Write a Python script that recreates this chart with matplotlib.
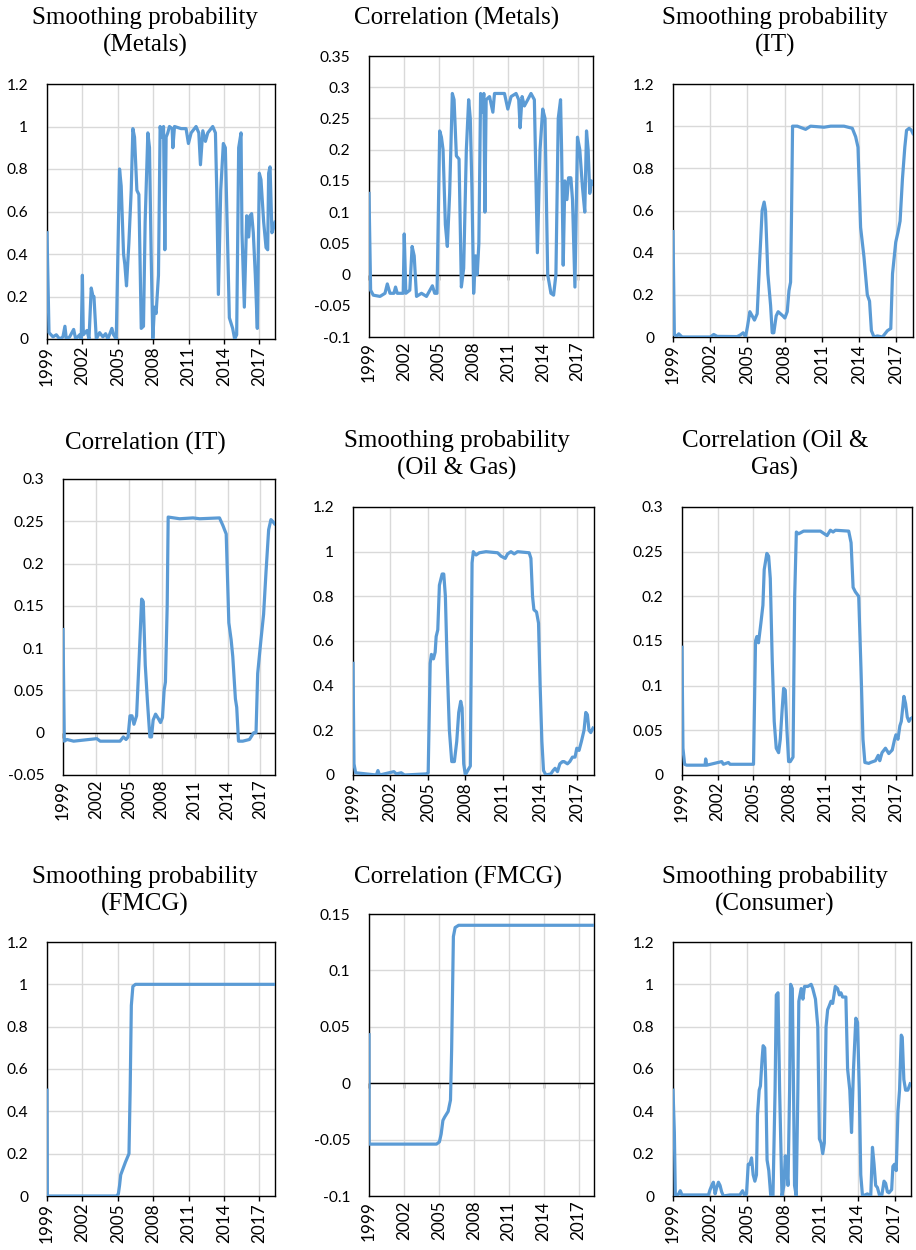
import matplotlib
matplotlib.use("Agg")
import matplotlib.pyplot as plt

W, H = 916, 1250
LINE = "#5B9BD5"
GRID = "#D9D9D9"
XMIN, XMAX = 1999.0, 2018.33
year_ticks = [1999, 2002, 2005, 2008, 2011, 2014, 2017]
year_labels = ["1999", "2002", "2005", "2008", "2011", "2014", "2017"]

# ---------------- data ----------------
metals_prob_x = [1999.0, 1999.17, 1999.51, 1999.79, 2000.07, 2000.35, 2000.52, 2000.64, 2000.92, 2001.26,
                 2001.43, 2001.77, 2001.9, 2002.0, 2002.08, 2002.39, 2002.56, 2002.75, 2002.9, 2002.98,
                 2003.18, 2003.46, 2003.74, 2003.97, 2004.16, 2004.5, 2004.64, 2004.87, 2005.15, 2005.29,
                 2005.49, 2005.6, 2005.74, 2005.94, 2006.14, 2006.28, 2006.42, 2006.62, 2006.79, 2006.99,
                 2007.18, 2007.32, 2007.55, 2007.69, 2007.83, 2007.97, 2008.11, 2008.25, 2008.45, 2008.59,
                 2008.73, 2008.88, 2008.99, 2009.1, 2009.24, 2009.38, 2009.61, 2009.67, 2009.81, 2010.37,
                 2010.79, 2010.99, 2011.22, 2011.64, 2011.87, 2012.01, 2012.21, 2012.43, 2012.63, 2013.05,
                 2013.28, 2013.39, 2013.53, 2013.73, 2013.95, 2014.12, 2014.29, 2014.46, 2014.74, 2014.91,
                 2015.08, 2015.25, 2015.45, 2015.53, 2015.73, 2015.93, 2016.1, 2016.21, 2016.35, 2016.49,
                 2016.66, 2016.83, 2017.0, 2017.14, 2017.37, 2017.57, 2017.71, 2017.79, 2017.91, 2018.07,
                 2018.19, 2018.33]
metals_prob_y = [0.5, 0.03, 0.01, 0.02, 0.0, 0.01, 0.06, 0.0, 0.01, 0.045,
                 0.0, 0.02, 0.0, 0.30, 0.02, 0.04, 0.0, 0.24, 0.20, 0.20,
                 0.0, 0.03, 0.01, 0.025, 0.0, 0.05, 0.02, 0.0, 0.80, 0.72,
                 0.40, 0.35, 0.25, 0.45, 0.70, 0.99, 0.95, 0.70, 0.68, 0.05,
                 0.06, 0.55, 0.97, 0.90, 0.40, 0.0, 0.15, 0.12, 0.30, 1.0,
                 0.95, 1.0, 0.42, 0.95, 0.97, 1.0, 0.99, 0.90, 1.0, 0.99,
                 0.99, 0.92, 0.97, 1.0, 0.97, 0.82, 0.98, 0.93, 0.97, 1.0,
                 0.97, 0.70, 0.21, 0.70, 0.92, 0.90, 0.50, 0.10, 0.05, 0.0,
                 0.02, 0.90, 0.97, 0.50, 0.15, 0.58, 0.48, 0.58, 0.59, 0.50,
                 0.30, 0.05, 0.78, 0.75, 0.55, 0.43, 0.42, 0.78, 0.81, 0.50,
                 0.52, 0.55]

metals_corr_x = [1999.0, 1999.14, 1999.37, 1999.95, 2000.38, 2000.58, 2000.81, 2001.15, 2001.29, 2001.44,
                 2001.95, 2002.04, 2002.18, 2002.52, 2002.72, 2002.9, 2003.1, 2003.53, 2003.96, 2004.47,
                 2004.67, 2004.87, 2005.1, 2005.25, 2005.39, 2005.59, 2005.76, 2005.96, 2006.19, 2006.34,
                 2006.54, 2006.77, 2006.97, 2007.17, 2007.4, 2007.6, 2007.74, 2007.88, 2008.03, 2008.2,
                 2008.34, 2008.48, 2008.63, 2008.77, 2008.91, 2009.0, 2009.11, 2009.4, 2009.69, 2009.83,
                 2010.69, 2010.98, 2011.26, 2011.69, 2011.92, 2012.04, 2012.21, 2012.41, 2012.7, 2012.98,
                 2013.27, 2013.41, 2013.53, 2013.76, 2013.99, 2014.19, 2014.42, 2014.7, 2014.93, 2015.13,
                 2015.33, 2015.53, 2015.62, 2015.76, 2015.9, 2016.08, 2016.22, 2016.42, 2016.56, 2016.77,
                 2016.99, 2017.19, 2017.42, 2017.62, 2017.77, 2017.91, 2018.05, 2018.2, 2018.33]
metals_corr_y = [0.13, -0.025, -0.033, -0.035, -0.03, -0.015, -0.03, -0.03, -0.02, -0.03,
                 -0.03, 0.065, -0.03, -0.025, 0.045, 0.03, -0.035, -0.03, -0.035, -0.018,
                 -0.03, -0.03, 0.23, 0.22, 0.20, 0.08, 0.045, 0.13, 0.29, 0.28,
                 0.19, 0.185, -0.02, 0.01, 0.20, 0.28, 0.25, 0.14, -0.03, 0.03,
                 0.0, 0.05, 0.29, 0.26, 0.29, 0.10, 0.28, 0.285, 0.26, 0.29,
                 0.29, 0.265, 0.285, 0.29, 0.28, 0.235, 0.285, 0.27, 0.28, 0.29,
                 0.28, 0.15, 0.035, 0.20, 0.265, 0.25, 0.0, -0.03, -0.033, 0.0,
                 0.25, 0.28, 0.20, 0.015, 0.15, 0.12, 0.155, 0.155, 0.12, -0.02,
                 0.22, 0.20, 0.14, 0.10, 0.23, 0.20, 0.13, 0.15, 0.145]

it_prob_x = [1999.0, 1999.11, 1999.32, 1999.46, 1999.73, 2002.01, 2002.28, 2002.55, 2004.17, 2004.43,
             2004.65, 2004.84, 2005.0, 2005.19, 2005.38, 2005.56, 2005.78, 2005.97, 2006.18, 2006.34,
             2006.45, 2006.64, 2006.86, 2006.99, 2007.12, 2007.31, 2007.47, 2007.66, 2007.85, 2008.01,
             2008.2, 2008.34, 2008.47, 2008.55, 2008.63, 2009.01, 2009.68, 2010.08, 2011.16, 2011.7,
             2012.77, 2013.44, 2013.71, 2013.9, 2014.11, 2014.38, 2014.65, 2014.83, 2014.98, 2015.19,
             2015.46, 2015.87, 2016.27, 2016.54, 2016.68, 2016.94, 2017.13, 2017.29, 2017.48, 2017.67,
             2017.81, 2018.02, 2018.21, 2018.33]
it_prob_y = [0.5, 0.01, 0.005, 0.015, 0.0, 0.0, 0.012, 0.003, 0.002, 0.01,
             0.02, 0.0, 0.05, 0.12, 0.10, 0.08, 0.11, 0.35, 0.60, 0.64,
             0.60, 0.30, 0.15, 0.02, 0.02, 0.10, 0.12, 0.11, 0.10, 0.09,
             0.12, 0.22, 0.26, 0.60, 1.0, 1.0, 0.985, 1.0, 0.995, 1.0,
             1.0, 0.99, 0.95, 0.90, 0.52, 0.38, 0.20, 0.17, 0.03, 0.0,
             0.005, 0.0, 0.03, 0.04, 0.30, 0.45, 0.50, 0.55, 0.75, 0.90,
             0.98, 0.99, 0.98, 0.965]

it_corr_x = [1999.0, 1999.12, 1999.36, 1999.97, 2002.08, 2002.39, 2004.2, 2004.5, 2004.75, 2004.93,
             2005.11, 2005.29, 2005.47, 2005.71, 2005.95, 2006.17, 2006.32, 2006.5, 2006.71, 2006.92,
             2007.07, 2007.22, 2007.44, 2007.68, 2007.89, 2008.07, 2008.22, 2008.34, 2008.5, 2008.59,
             2009.64, 2010.85, 2011.46, 2013.27, 2013.58, 2013.88, 2014.12, 2014.33, 2014.48, 2014.72,
             2014.84, 2015.0, 2015.39, 2016.0, 2016.39, 2016.6, 2016.75, 2017.05, 2017.29, 2017.51,
             2017.75, 2017.96, 2018.11, 2018.29]
it_corr_y = [0.122, -0.01, -0.008, -0.01, -0.007, -0.01, -0.01, -0.005, -0.008, -0.005,
             0.02, 0.02, 0.01, 0.02, 0.09, 0.158, 0.155, 0.08, 0.035, -0.005,
             -0.005, 0.015, 0.022, 0.017, 0.012, 0.018, 0.05, 0.06, 0.15, 0.255,
             0.253, 0.254, 0.253, 0.254, 0.245, 0.235, 0.13, 0.11, 0.09, 0.04,
             0.03, -0.01, -0.01, -0.008, 0.0, 0.0, 0.07, 0.11, 0.14, 0.19,
             0.24, 0.252, 0.25, 0.247]

oil_prob_x = [1999.0, 1999.08, 1999.21, 2000.87, 2001.0, 2001.13, 2002.28, 2002.47, 2002.87, 2003.13,
              2004.87, 2005.03, 2005.19, 2005.29, 2005.45, 2005.59, 2005.67, 2005.8, 2005.93, 2006.15,
              2006.28, 2006.41, 2006.55, 2006.73, 2006.92, 2007.13, 2007.32, 2007.48, 2007.64, 2007.75,
              2007.88, 2008.01, 2008.2, 2008.41, 2008.55, 2008.65, 2008.87, 2009.13, 2009.67, 2010.6,
              2010.87, 2011.21, 2011.4, 2011.67, 2011.93, 2012.2, 2013.13, 2013.27, 2013.4, 2013.51,
              2013.72, 2013.88, 2014.01, 2014.15, 2014.28, 2014.47, 2014.87, 2015.05, 2015.21, 2015.4,
              2015.59, 2015.8, 2015.93, 2016.2, 2016.39, 2016.6, 2016.81, 2016.95, 2017.13, 2017.32,
              2017.53, 2017.67, 2017.8, 2017.93, 2018.07, 2018.25]
oil_prob_y = [0.5, 0.05, 0.01, 0.0, 0.02, 0.0, 0.015, 0.005, 0.01, 0.0,
              0.005, 0.01, 0.50, 0.54, 0.52, 0.55, 0.62, 0.65, 0.85, 0.90,
              0.90, 0.80, 0.50, 0.20, 0.06, 0.06, 0.15, 0.28, 0.33, 0.30,
              0.05, 0.0, 0.02, 0.04, 0.95, 1.0, 0.985, 0.995, 1.0, 0.995,
              0.98, 0.97, 0.99, 1.0, 0.99, 1.0, 0.995, 0.97, 0.80, 0.74,
              0.73, 0.68, 0.40, 0.15, 0.02, 0.0, 0.005, 0.02, 0.03, 0.015,
              0.05, 0.06, 0.06, 0.05, 0.06, 0.08, 0.08, 0.12, 0.11, 0.15,
              0.20, 0.28, 0.27, 0.20, 0.19, 0.21]

oil_corr_x = [1999.0, 1999.08, 1999.22, 1999.39, 2000.94, 2000.99, 2001.08, 2002.34, 2002.48, 2002.9,
              2003.04, 2004.87, 2005.01, 2005.18, 2005.29, 2005.43, 2005.63, 2005.8, 2005.91, 2006.13,
              2006.28, 2006.42, 2006.58, 2006.75, 2006.92, 2007.12, 2007.26, 2007.4, 2007.54, 2007.68,
              2007.82, 2007.96, 2008.1, 2008.33, 2008.47, 2008.61, 2008.8, 2009.22, 2010.63, 2011.19,
              2011.47, 2011.7, 2011.89, 2013.01, 2013.21, 2013.38, 2013.57, 2013.85, 2014.04, 2014.21,
              2014.37, 2014.7, 2014.84, 2015.26, 2015.49, 2015.62, 2015.81, 2016.1, 2016.38, 2016.67,
              2016.87, 2016.98, 2017.15, 2017.31, 2017.43, 2017.65, 2017.79, 2017.93, 2018.07, 2018.21,
              2018.33]
oil_corr_y = [0.143, 0.03, 0.012, 0.011, 0.011, 0.018, 0.011, 0.015, 0.012, 0.014,
              0.012, 0.012, 0.012, 0.15, 0.155, 0.148, 0.17, 0.19, 0.23, 0.248,
              0.245, 0.22, 0.13, 0.06, 0.03, 0.025, 0.04, 0.07, 0.097, 0.095,
              0.05, 0.015, 0.015, 0.02, 0.20, 0.272, 0.27, 0.273, 0.273, 0.268,
              0.274, 0.272, 0.274, 0.273, 0.26, 0.21, 0.205, 0.20, 0.12, 0.04,
              0.014, 0.013, 0.014, 0.016, 0.022, 0.016, 0.025, 0.03, 0.024, 0.028,
              0.04, 0.045, 0.04, 0.055, 0.06, 0.088, 0.08, 0.065, 0.06, 0.063,
              0.064]

fmcg_prob_x = [1999.0, 1999.03, 2004.9, 2005.05, 2005.15, 2005.25, 2005.45, 2005.65, 2005.95, 2006.05,
               2006.15, 2006.28, 2006.5, 2018.33]
fmcg_prob_y = [0.5, 0.0, 0.0, 0.01, 0.05, 0.10, 0.13, 0.16, 0.20, 0.50,
               0.90, 0.99, 1.0, 1.0]

fmcg_corr_x = [1999.0, 1999.01, 2004.8, 2005.05, 2005.2, 2005.35, 2005.5, 2005.8, 2006.0, 2006.1,
               2006.25, 2006.4, 2006.7, 2018.33]
fmcg_corr_y = [0.043, -0.054, -0.054, -0.052, -0.045, -0.033, -0.03, -0.025, -0.015, 0.03,
               0.13, 0.138, 0.14, 0.14]

cons_prob_x = [1999.0, 1999.11, 1999.19, 1999.46, 1999.59, 1999.73, 2000.67, 2001.88, 2002.01, 2002.15,
               2002.28, 2002.42, 2002.55, 2002.69, 2002.82, 2002.95, 2003.09, 2003.63, 2004.43, 2004.65,
               2004.84, 2004.97, 2005.11, 2005.24, 2005.38, 2005.51, 2005.65, 2005.78, 2005.86, 2006.0,
               2006.1, 2006.24, 2006.32, 2006.45, 2006.53, 2006.64, 2006.78, 2006.94, 2007.12, 2007.29,
               2007.39, 2007.53, 2007.66, 2007.85, 2008.01, 2008.12, 2008.2, 2008.34, 2008.47, 2008.55,
               2008.69, 2008.79, 2008.87, 2009.01, 2009.14, 2009.22, 2009.41, 2009.55, 2009.68, 2009.95,
               2010.22, 2010.35, 2010.57, 2010.76, 2010.89, 2011.03, 2011.16, 2011.29, 2011.43, 2011.56,
               2011.7, 2011.83, 2011.97, 2012.18, 2012.37, 2012.51, 2012.64, 2012.77, 2013.04, 2013.18,
               2013.36, 2013.5, 2013.66, 2013.85, 2013.99, 2014.13, 2014.25, 2014.39, 2014.79, 2015.06,
               2015.2, 2015.33, 2015.46, 2015.6, 2015.79, 2015.95, 2016.14, 2016.27, 2016.41, 2016.54,
               2016.76, 2016.86, 2016.99, 2017.13, 2017.27, 2017.4, 2017.54, 2017.62, 2017.75, 2017.89,
               2018.07, 2018.26]
cons_prob_y = [0.5, 0.3, 0.0, 0.01, 0.025, 0.005, 0.005, 0.005, 0.03, 0.05,
               0.065, 0.01, 0.04, 0.065, 0.05, 0.02, 0.0, 0.005, 0.005, 0.025,
               0.0, 0.01, 0.15, 0.15, 0.18, 0.10, 0.07, 0.10, 0.38, 0.50,
               0.52, 0.65, 0.71, 0.70, 0.55, 0.17, 0.12, 0.0, 0.0, 0.50,
               0.95, 0.96, 0.50, 0.0, 0.05, 0.19, 0.15, 0.05, 0.50, 1.0,
               0.98, 0.50, 0.05, 0.0, 0.50, 0.92, 0.98, 0.93, 0.99, 0.99,
               1.0, 0.98, 0.93, 0.80, 0.27, 0.25, 0.20, 0.25, 0.80, 0.88,
               0.90, 0.92, 0.91, 0.99, 0.98, 0.95, 0.96, 0.94, 0.94, 0.60,
               0.50, 0.30, 0.60, 0.84, 0.82, 0.50, 0.10, 0.0, 0.01, 0.0,
               0.23, 0.15, 0.05, 0.04, 0.0, 0.0, 0.07, 0.06, 0.02, 0.015,
               0.03, 0.14, 0.15, 0.12, 0.40, 0.50, 0.76, 0.75, 0.55, 0.50,
               0.50, 0.53]

prob_yticks = [0, 0.2, 0.4, 0.6, 0.8, 1.0, 1.2]
metals_corr_yticks = [-0.1, -0.05, 0, 0.05, 0.1, 0.15, 0.2, 0.25, 0.3, 0.35]
it_corr_yticks = [-0.05, 0, 0.05, 0.1, 0.15, 0.2, 0.25, 0.3]
oil_corr_yticks = [0, 0.05, 0.1, 0.15, 0.2, 0.25, 0.3]
fmcg_corr_yticks = [-0.1, -0.05, 0, 0.05, 0.1, 0.15]

titles = ["Smoothing probability\n(Metals)", "Correlation (Metals)", "Smoothing probability\n(IT)",
          "Correlation (IT)", "Smoothing probability\n(Oil & Gas)", "Correlation (Oil &\nGas)",
          "Smoothing probability\n(FMCG)", "Correlation (FMCG)", "Smoothing probability\n(Consumer)"]

# ---------------- layout (pixels) ----------------
panels = [
    # (left, top, right, bottom), x, y, yticks, title center (x, y)
    ((47, 84, 275, 339), metals_prob_x, metals_prob_y, prob_yticks, (145, 32)),
    ((369, 56, 593, 337), metals_corr_x, metals_corr_y, metals_corr_yticks, (457, 18)),
    ((673, 84, 913, 337), it_prob_x, it_prob_y, prob_yticks, (775, 32)),
    ((63, 479, 275, 775), it_corr_x, it_corr_y, it_corr_yticks, (145, 443)),
    ((353, 507, 594, 775), oil_prob_x, oil_prob_y, prob_yticks, (457, 455)),
    ((682, 507, 912, 775), oil_corr_x, oil_corr_y, oil_corr_yticks, (775, 455)),
    ((47, 942, 275, 1196), fmcg_prob_x, fmcg_prob_y, prob_yticks, (145, 891)),
    ((369, 914, 594, 1196), fmcg_corr_x, fmcg_corr_y, fmcg_corr_yticks, (458, 877)),
    ((673, 942, 911, 1196), cons_prob_x, cons_prob_y, prob_yticks, (775, 891)),
]

fig = plt.figure(figsize=(W / 100, H / 100), dpi=100)
fig.patch.set_facecolor("white")

TICKFONT = "Lato"
for (box, xs, ys, yt, tpos), title in zip(panels, titles):
    l, t, r, b = box
    ax = fig.add_axes([l / W, 1 - b / H, (r - l) / W, (b - t) / H])
    ax.plot(xs, ys, color=LINE, lw=2.3, solid_joinstyle="round", zorder=3, clip_on=True)
    ax.set_xlim(XMIN, XMAX)
    ax.set_ylim(yt[0], yt[-1])
    ax.set_xticks(year_ticks)
    ax.set_xticklabels(year_labels, rotation=90, fontfamily=TICKFONT, fontsize=12.3)
    ax.set_yticks(yt)
    ax.set_yticklabels(["%g" % v for v in yt], fontfamily=TICKFONT, fontsize=11.2)
    ax.tick_params(axis="y", length=0, colors="black", pad=13.5)
    has_zero = yt[0] < 0
    ax.tick_params(axis="x", direction="out", length=0 if has_zero else 3.5, width=1.0,
                   colors="black", pad=3.5 if has_zero else 1.5)
    ax.grid(True, color=GRID, lw=1.0, zorder=0)
    ax.set_axisbelow(True)
    for s in ax.spines.values():
        s.set_color("black")
        s.set_linewidth(1.0)
    if has_zero:
        ax.axhline(0, color="black", lw=1.0, zorder=2)
        frac = (0 - yt[0]) / (yt[-1] - yt[0])
        sec = ax.secondary_xaxis(frac)
        sec.set_xticks(year_ticks)
        sec.tick_params(axis="x", direction="out", length=3.5, width=1.0, color="black",
                        labelbottom=False, labeltop=False)
        sec.xaxis.set_ticks_position("bottom")
        sec.set_xticklabels([])
        for s in sec.spines.values():
            s.set_visible(False)
    fig.text(tpos[0] / W, 1 - tpos[1] / H, title, ha="center", va="center",
             fontfamily="Liberation Serif", fontsize=18, linespacing=1.24, color="black")

fig.savefig("out.png", dpi=100, facecolor="white")
